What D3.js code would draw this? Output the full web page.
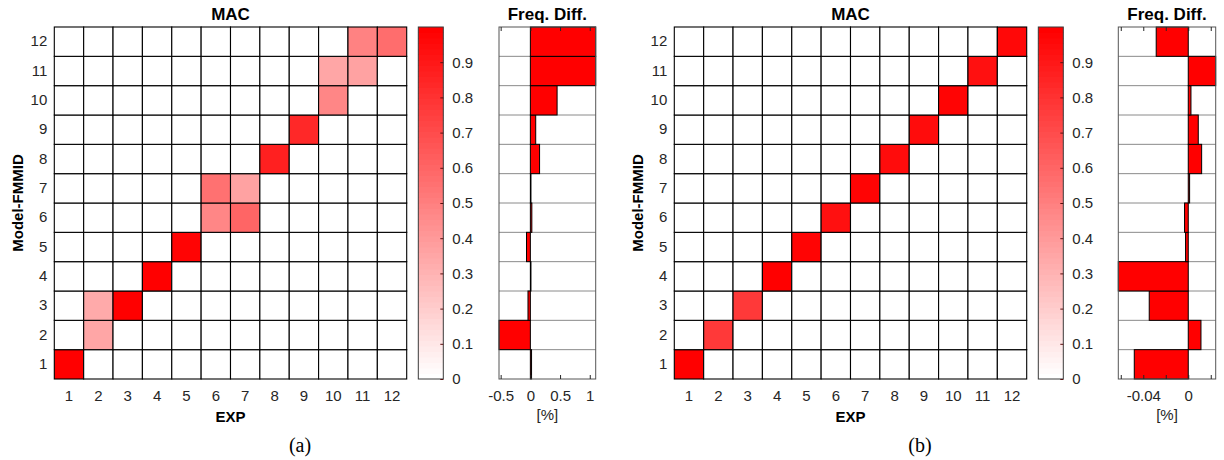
<!DOCTYPE html>
<html>
<head>
<meta charset="utf-8">
<script src="https://cdn.jsdelivr.net/npm/d3@7/dist/d3.min.js"></script>
<style>
  html, body { margin: 0; padding: 0; background: #fff; }
  svg { display: block; }
  text { font-family: "Liberation Sans", Arial, Helvetica, sans-serif; fill: #262626; }
  .bold { font-weight: bold; fill: #000; }
  .caption { font-family: "Liberation Serif", "Times New Roman", serif; fill: #000; }
</style>
</head>
<body>
<svg id="fig" width="1224" height="460"></svg>
<script>
// Mode indices
const expModes = [1, 2, 3, 4, 5, 6, 7, 8, 9, 10, 11, 12];
const modelModes = [1, 2, 3, 4, 5, 6, 7, 8, 9, 10, 11, 12];

// MAC matrices: macX[model - 1][exp - 1]
const macA = [
  [1.00, 0, 0, 0, 0, 0, 0, 0, 0, 0, 0, 0],
  [0, 0.35, 0, 0, 0, 0, 0, 0, 0, 0, 0, 0],
  [0, 0.33, 1.00, 0, 0, 0, 0, 0, 0, 0, 0, 0],
  [0, 0, 0, 1.00, 0, 0, 0, 0, 0, 0, 0, 0],
  [0, 0, 0, 0, 0.99, 0, 0, 0, 0, 0, 0, 0],
  [0, 0, 0, 0, 0, 0.47, 0.60, 0, 0, 0, 0, 0],
  [0, 0, 0, 0, 0, 0.55, 0.37, 0, 0, 0, 0, 0],
  [0, 0, 0, 0, 0, 0, 0, 0.88, 0, 0, 0, 0],
  [0, 0, 0, 0, 0, 0, 0, 0, 0.84, 0, 0, 0],
  [0, 0, 0, 0, 0, 0, 0, 0, 0, 0.47, 0, 0],
  [0, 0, 0, 0, 0, 0, 0, 0, 0, 0.35, 0.37, 0],
  [0, 0, 0, 0, 0, 0, 0, 0, 0, 0, 0.49, 0.57]
];
const macB = [
  [1.00, 0, 0, 0, 0, 0, 0, 0, 0, 0, 0, 0],
  [0, 0.78, 0, 0, 0, 0, 0, 0, 0, 0, 0, 0],
  [0, 0, 0.78, 0, 0, 0, 0, 0, 0, 0, 0, 0],
  [0, 0, 0, 1.00, 0, 0, 0, 0, 0, 0, 0, 0],
  [0, 0, 0, 0, 0.98, 0, 0, 0, 0, 0, 0, 0],
  [0, 0, 0, 0, 0, 0.94, 0, 0, 0, 0, 0, 0],
  [0, 0, 0, 0, 0, 0, 0.98, 0, 0, 0, 0, 0],
  [0, 0, 0, 0, 0, 0, 0, 0.95, 0, 0, 0, 0],
  [0, 0, 0, 0, 0, 0, 0, 0, 0.95, 0, 0, 0],
  [0, 0, 0, 0, 0, 0, 0, 0, 0, 0.98, 0, 0],
  [0, 0, 0, 0, 0, 0, 0, 0, 0, 0, 0.94, 0],
  [0, 0, 0, 0, 0, 0, 0, 0, 0, 0, 0, 0.97]
];

// Frequency differences [%] per model mode 1..12
const freqDiffA = [0.02, -0.528, -0.04, 0.005, -0.065, 0.025, 0.01, 0.155, 0.09, 0.45, 1.10, 1.10];
const freqDiffB = [-0.048, 0.0113, -0.0347, -0.0622, -0.0024, -0.0033, 0.0012, 0.0119, 0.0089, 0.0024, 0.0244, -0.0285];

// Axis ticks
const cbarTicks = [0, 0.1, 0.2, 0.3, 0.4, 0.5, 0.6, 0.7, 0.8, 0.9];
const freqTicksA = [-0.5, 0, 0.5, 1];
const freqTickLabelsA = ["-0.5", "0", "0.5", "1"];
const freqTicksB = [-0.06, -0.04, -0.02, 0, 0.02];
const freqTickLabelsB = ["", "-0.04", "", "0", ""];

const svg = d3.select("#fig");

const plotTop = 27, plotBottom = 379;
const colorScale = d3.scaleLinear().domain([0, 1]).range(["#ffffff", "#ff0000"]).clamp(true);
// 64-level colormap, as in the colorbar
const nLevels = 64;
const quantColor = v => colorScale(Math.round(Math.max(0, Math.min(1, v)) * (nLevels - 1)) / (nLevels - 1));
const tickFont = s => s.attr("font-size", 15).attr("fill", "#262626")
  .attr("font-family", "Liberation Sans, Arial, sans-serif");

function drawPanel(opt) {
  const g = svg.append("g");

  // ---------- MAC heatmap ----------
  const x = d3.scaleBand().domain(expModes).range([opt.hx0, opt.hx1]);
  const y = d3.scaleBand().domain(modelModes.slice().reverse()).range([plotTop, plotBottom]);

  const cells = [];
  opt.mac.forEach((row, i) => row.forEach((v, j) => cells.push({ model: modelModes[i], exp: expModes[j], v })));

  g.selectAll("rect.cell").data(cells).enter().append("rect")
    .attr("class", "cell")
    .attr("x", d => x(d.exp)).attr("y", d => y(d.model))
    .attr("width", x.bandwidth()).attr("height", y.bandwidth())
    .attr("fill", d => quantColor(d.v))
    .attr("stroke", "#000").attr("stroke-width", 1.1);

  g.append("g").attr("transform", `translate(0,${plotBottom})`)
    .call(d3.axisBottom(x).tickSize(0).tickPadding(11))
    .call(s => s.select(".domain").remove())
    .call(s => s.selectAll("text").call(tickFont));

  g.append("g").attr("transform", `translate(${opt.hx0},0)`)
    .call(d3.axisLeft(y).tickSize(0).tickPadding(7))
    .call(s => s.select(".domain").remove())
    .call(s => s.selectAll("text").call(tickFont));

  g.append("text").attr("class", "bold").attr("x", (opt.hx0 + opt.hx1) / 2).attr("y", 20)
    .attr("text-anchor", "middle").attr("font-size", 17).text("MAC");
  g.append("text").attr("class", "bold").attr("x", (opt.hx0 + opt.hx1) / 2).attr("y", 422)
    .attr("text-anchor", "middle").attr("font-size", 15).text("EXP");
  g.append("text").attr("class", "bold")
    .attr("transform", `translate(${opt.hx0 - 31},${(plotTop + plotBottom) / 2}) rotate(-90)`)
    .attr("text-anchor", "middle").attr("font-size", 15).text("Model-FMMID");

  // ---------- colorbar ----------
  const cy = d3.scaleLinear().domain([0, 1]).range([plotBottom, plotTop]);
  const levels = d3.range(nLevels);
  g.selectAll("rect.cb").data(levels).enter().append("rect")
    .attr("class", "cb")
    .attr("x", opt.cx0).attr("width", opt.cx1 - opt.cx0)
    .attr("y", d => cy((d + 1) / nLevels)).attr("height", d => cy(d / nLevels) - cy((d + 1) / nLevels) + 0.5)
    .attr("fill", d => colorScale(d / (nLevels - 1)));
  g.append("rect").attr("x", opt.cx0).attr("y", plotTop).attr("width", opt.cx1 - opt.cx0)
    .attr("height", plotBottom - plotTop).attr("fill", "none").attr("stroke", "#3a3a3a").attr("stroke-width", 1);
  g.append("g").attr("transform", `translate(${opt.cx1},0)`)
    .call(d3.axisRight(cy).tickValues(cbarTicks).tickFormat(d3.format("")).tickSize(-3).tickPadding(9))
    .call(s => s.select(".domain").remove())
    .call(s => s.selectAll("line").attr("stroke", "#5a1010"))
    .call(s => s.selectAll("text").call(tickFont));

  // ---------- frequency difference bars ----------
  const fx = d3.scaleLinear().domain(d3.extent(opt.freq.concat([0]))).range([opt.fx0, opt.fx1]);
  const fy = d3.scaleBand().domain(modelModes.slice().reverse()).range([plotTop, plotBottom]);

  // row separators
  g.selectAll("line.sep").data(modelModes.slice(1)).enter().append("line")
    .attr("class", "sep")
    .attr("x1", opt.fx0).attr("x2", opt.fx1)
    .attr("y1", d => fy(d) + fy.bandwidth()).attr("y2", d => fy(d) + fy.bandwidth())
    .attr("stroke", "#8a8a8a").attr("stroke-width", 1);

  const bars = opt.freq.map((v, i) => ({ model: modelModes[i], v }));
  g.selectAll("rect.bar").data(bars).enter().append("rect")
    .attr("class", "bar")
    .attr("x", d => fx(Math.min(0, d.v)))
    .attr("width", d => Math.max(0.6, Math.abs(fx(d.v) - fx(0))))
    .attr("y", d => fy(d.model)).attr("height", fy.bandwidth())
    .attr("fill", "#ff0000").attr("stroke", "#000").attr("stroke-width", 1);

  g.append("rect").attr("x", opt.fx0).attr("y", plotTop).attr("width", opt.fx1 - opt.fx0)
    .attr("height", plotBottom - plotTop).attr("fill", "none").attr("stroke", "#555").attr("stroke-width", 1);

  g.append("g").attr("transform", `translate(0,${plotBottom})`)
    .call(d3.axisBottom(fx).tickValues(opt.fTicks).tickFormat((d, i) => opt.fLabels[i]).tickSize(-4).tickPadding(11))
    .call(s => s.select(".domain").remove())
    .call(s => s.selectAll("line").attr("stroke", "#262626"))
    .call(s => s.selectAll("text").call(tickFont));
  g.append("g").attr("transform", `translate(0,${plotTop})`)
    .call(d3.axisTop(fx).tickValues(opt.fTicks).tickFormat("").tickSize(-4))
    .call(s => s.select(".domain").remove())
    .call(s => s.selectAll("line").attr("stroke", "#262626"));

  g.append("text").attr("class", "bold").attr("x", (opt.fx0 + opt.fx1) / 2).attr("y", 20)
    .attr("text-anchor", "middle").attr("font-size", 17).text("Freq. Diff.");
  g.append("text").attr("x", (opt.fx0 + opt.fx1) / 2).attr("y", 420)
    .attr("text-anchor", "middle").attr("font-size", 15).text("[%]");

  g.append("text").attr("class", "caption").attr("x", opt.capX).attr("y", 452)
    .attr("text-anchor", "middle").attr("font-size", 20).text(opt.caption);
}

drawPanel({
  mac: macA, freq: freqDiffA, fTicks: freqTicksA, fLabels: freqTickLabelsA,
  hx0: 54.3, hx1: 406.7, cx0: 418.3, cx1: 443.3, fx0: 499, fx1: 595.7,
  capX: 300, caption: "(a)"
});
drawPanel({
  mac: macB, freq: freqDiffB, fTicks: freqTicksB, fLabels: freqTickLabelsB,
  hx0: 674.3, hx1: 1026.7, cx0: 1038.3, cx1: 1063.3, fx0: 1118.3, fx1: 1215.7,
  capX: 920, caption: "(b)"
});
</script>
</body>
</html>
